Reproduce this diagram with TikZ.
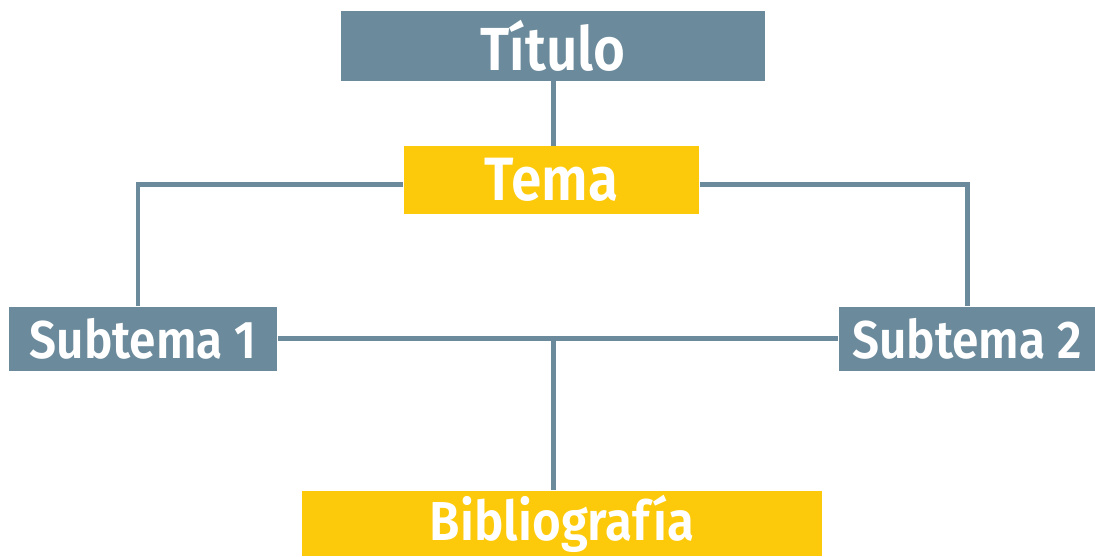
\documentclass[tikz,border=0pt]{standalone}
\usepackage{fontspec}
\setmainfont{Fira Sans}[FakeStretch=0.9, BoldFont={Fira Sans SemiBold}]
\usepackage{tikz}
\usetikzlibrary{positioning, calc}
\definecolor{grisazul}{HTML}{6B8A9B}
\definecolor{amarillo}{HTML}{FDCA0B}

\tikzset{
  caja/.style={inner sep=0pt, text=white, font=\bfseries},
  cajagris/.style={caja, fill=grisazul},
  cajaamarilla/.style={caja, fill=amarillo},
  linea/.style={draw=grisazul, line width=1.42pt}
}

\begin{document}
\begin{tikzpicture}[x=0.01cm, y=0.01cm]

\useasboundingbox (0,0) rectangle (1095,556);

\node[cajagris, minimum width=4.24cm, minimum height=0.695cm] (titulo) at (553,510.25) {\fontsize{17.3}{20}\selectfont Título};
\node[cajaamarilla, minimum width=2.95cm, minimum height=0.67cm] (tema) at (551.5,376) {\fontsize{17.4}{20}\selectfont Tema};
\node[cajagris, minimum width=2.68cm, minimum height=0.64cm] (sub1) at (143,217.4) {\fontsize{15.1}{18}\selectfont Subtema 1};
\node[cajagris, minimum width=2.56cm, minimum height=0.64cm] (sub2) at (967,217.4) {\fontsize{15.1}{18}\selectfont Subtema 2};
\node[cajaamarilla, minimum width=5.2cm, minimum height=0.65cm] (biblio) at (562,32.5) {\fontsize{15.6}{19}\selectfont Bibliografía};

\coordinate (cruce) at (titulo.south |- sub1.east);

\draw[linea] (titulo) -- (titulo |- tema.north);
\draw[linea] ([yshift=-0.04cm]tema.west) -| ([xshift=-0.05cm]sub1.north);
\draw[linea] ([yshift=-0.04cm]tema.east) -| (sub2.north);
\draw[linea] (sub1) -- (sub2);
\draw[linea] (cruce) -- (cruce |- biblio.north);

\end{tikzpicture}
\end{document}
